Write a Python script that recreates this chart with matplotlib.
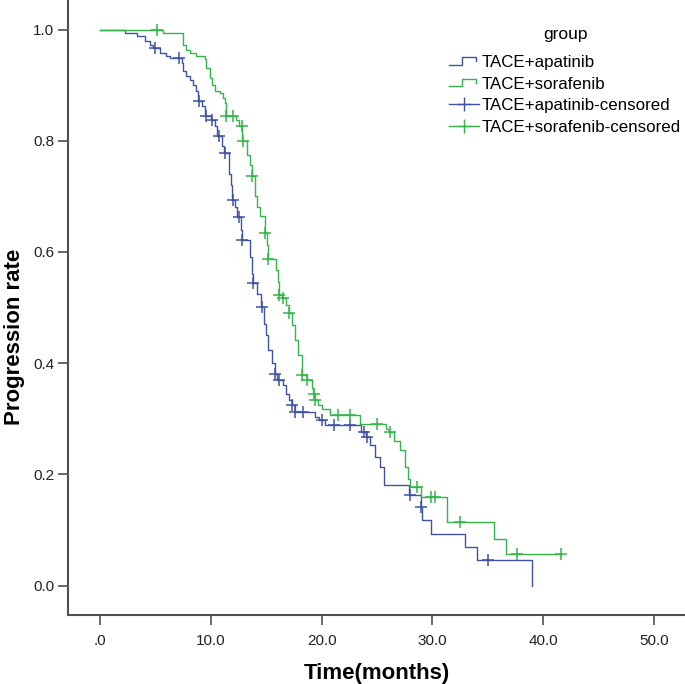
import numpy as np
import matplotlib
matplotlib.use("Agg")
import matplotlib.pyplot as plt
from matplotlib.legend_handler import HandlerBase
from matplotlib.lines import Line2D

plt.rcParams['font.family'] = ['Liberation Sans', 'DejaVu Sans']

# ---------------- data ----------------
apa_t = [0, 2.3, 3.3, 4.1, 4.5, 4.8, 5.4, 6.0, 6.3, 7.4, 7.5, 7.8, 8.1, 8.4, 8.7, 8.85,
         9.2, 9.5, 10.0, 10.4, 10.6, 11.0, 11.2, 11.6, 11.8, 11.9, 12.2, 12.4, 12.7, 12.8,
         13.5, 13.7, 13.8, 14.2, 14.5, 14.8, 15.0, 15.2, 15.5, 15.8, 16.0, 16.5, 16.8, 17.1,
         17.3, 17.6, 19.4, 19.8, 20.3, 23.6, 24.0, 24.4, 24.8, 25.3, 25.6, 27.9, 28.98, 29.02,
         29.9, 32.9, 34.0, 39.0]
apa_s = [1.0, 0.994, 0.989, 0.98, 0.973, 0.967, 0.958, 0.952, 0.949, 0.94, 0.925, 0.916,
         0.91, 0.901, 0.889, 0.871, 0.862, 0.844, 0.838, 0.826, 0.808, 0.79, 0.778, 0.74,
         0.72, 0.694, 0.68, 0.662, 0.64, 0.622, 0.59, 0.56, 0.544, 0.525, 0.501, 0.47, 0.45,
         0.423, 0.40, 0.381, 0.369, 0.36, 0.345, 0.333, 0.324, 0.312, 0.303, 0.297, 0.288,
         0.276, 0.267, 0.252, 0.231, 0.213, 0.180, 0.162, 0.141, 0.117, 0.093, 0.069, 0.045,
         0.0]
apa_cens = [5.0, 7.1, 8.9, 9.6, 10.1, 10.7, 11.3, 12.0, 12.5, 12.8, 13.8, 14.6, 15.8, 16.2,
            17.3, 17.6, 18.3, 20.0, 21.1, 22.6, 23.8, 24.1, 28.0, 29.0, 35.0]

sor_t = [0, 5.7, 7.5, 7.8, 8.1, 8.7, 9.5, 9.6, 9.9, 10.1, 10.4, 10.8, 11.1, 11.3, 11.4, 12.3,
         12.5, 12.85, 13.3, 13.5, 13.7, 14.0, 14.2, 14.4, 14.85, 15.05, 15.15, 15.9, 16.05,
         16.15, 16.45, 16.8, 17.05, 17.3, 17.6, 17.9, 18.2, 18.65, 19.1, 19.25, 19.38, 19.7,
         20.0, 20.8, 23.5, 25.8, 26.1, 26.5, 27.1, 27.5, 27.8, 28.0, 29.0, 31.3, 35.6, 36.6,
         41.6]
sor_s = [1.0, 0.993, 0.973, 0.964, 0.958, 0.952, 0.947, 0.931, 0.913, 0.901, 0.889, 0.885,
         0.877, 0.868, 0.845, 0.838, 0.826, 0.80, 0.775, 0.757, 0.736, 0.70, 0.68, 0.664,
         0.634, 0.613, 0.587, 0.568, 0.545, 0.523, 0.517, 0.505, 0.49, 0.468, 0.441, 0.414,
         0.378, 0.369, 0.355, 0.345, 0.333, 0.324, 0.318, 0.306, 0.291, 0.282, 0.276, 0.26,
         0.243, 0.213, 0.192, 0.177, 0.159, 0.114, 0.084, 0.056, 0.056]
sor_cens = [5.1, 11.4, 12.0, 12.8, 12.9, 13.7, 14.9, 15.2, 16.2, 16.5, 17.1, 18.25, 18.7,
            19.3, 19.4, 21.5, 22.6, 25.0, 26.2, 28.6, 29.9, 30.2, 32.5, 37.6, 41.6]

legend_title = "group"
labels = ["TACE+apatinib", "TACE+sorafenib", "TACE+apatinib-censored", "TACE+sorafenib-censored"]
xticks = [0, 10, 20, 30, 40, 50]
xticklabels = [".0", "10.0", "20.0", "30.0", "40.0", "50.0"]
yticks = [0.0, 0.2, 0.4, 0.6, 0.8, 1.0]
yticklabels = ["0.0", "0.2", "0.4", "0.6", "0.8", "1.0"]

BLUE = "#3F52A3"
GREEN = "#35B44A"
AXC = "#505050"

W, H = 685, 684
fig = plt.figure(figsize=(W / 100, H / 100), dpi=100)
ax = fig.add_axes([68 / W, 1 - 615 / H, 1 - 68 / W, 615 / H])


def level_at(t_arr, s_arr, c):
    idx = np.searchsorted(np.asarray(t_arr), np.asarray(c), side='right') - 1
    return np.asarray(s_arr)[idx]


ax.step(apa_t, apa_s, where='post', color=BLUE, lw=1.0)
ax.step(sor_t, sor_s, where='post', color=GREEN, lw=1.0)
ax.plot(apa_cens, level_at(apa_t, apa_s, apa_cens), ls='none', marker='+', ms=9, mew=1.1,
        color=BLUE)
ax.plot(sor_cens, level_at(sor_t, sor_s, sor_cens), ls='none', marker='+', ms=9, mew=1.1,
        color=GREEN)

x0px, x10px = 100, 210.8
tpp = 10 / (x10px - x0px)
ax.set_xlim(0 - (x0px - 68) * tpp, 0 + (W - x0px) * tpp)
y1px, y0px = 29.5, 585.5
spp = 1 / (y0px - y1px)
ax.set_ylim(0 - (615 - y0px) * spp, 1 + y1px * spp)

ax.set_xticks(xticks)
ax.set_xticklabels(xticklabels)
ax.set_yticks(yticks)
ax.set_yticklabels(yticklabels)
ax.tick_params(axis='both', direction='out', length=7, width=1.2, color=AXC,
               labelsize=11, labelcolor='#222222', pad=3)
ax.tick_params(axis='x', pad=7)
for s in ['top', 'right']:
    ax.spines[s].set_visible(False)
for s in ['left', 'bottom']:
    ax.spines[s].set_color(AXC)
    ax.spines[s].set_linewidth(1.5)

fig.text((68 + W) / 2 / W, 1 - 673 / H, "Time(months)", ha='center', va='center',
         fontsize=16, fontweight='bold')
fig.text(15 / W, 1 - 337 / H, "Progression rate", ha='center', va='center',
         rotation=90, fontsize=16, fontweight='bold')


class StepHandler(HandlerBase):
    def create_artists(self, legend, orig_handle, xdescent, ydescent, width, height,
                       fontsize, trans):
        x0 = -xdescent
        y0 = -ydescent
        xs = [x0, x0 + 0.45 * width, x0 + 0.45 * width, x0 + 0.92 * width, x0 + 0.92 * width]
        ys = [y0 + 0.2 * height, y0 + 0.2 * height, y0 + 0.85 * height, y0 + 0.85 * height,
              y0 + 0.5 * height]
        ln = Line2D(xs, ys, color=orig_handle.get_color(), lw=1.0, transform=trans)
        return [ln]


class CensHandler(HandlerBase):
    def create_artists(self, legend, orig_handle, xdescent, ydescent, width, height,
                       fontsize, trans):
        x0 = -xdescent
        y0 = -ydescent + 0.5 * height
        ln = Line2D([x0, x0 + width], [y0, y0], color=orig_handle.get_color(), lw=1.0,
                    transform=trans)
        mk = Line2D([x0 + 0.5 * width], [y0], ls='none', marker='+', ms=10, mew=1.0,
                    color=orig_handle.get_color(), transform=trans)
        return [ln, mk]


h1 = Line2D([], [], color=BLUE)
h2 = Line2D([], [], color=GREEN)
h3 = Line2D([], [], color=BLUE)
h4 = Line2D([], [], color=GREEN)
leg = ax.legend([h1, h2, h3, h4], labels,
                handler_map={h1: StepHandler(), h2: StepHandler(),
                             h3: CensHandler(), h4: CensHandler()},
                loc='upper left', bbox_to_anchor=(449 / W, 1 - 55 / H),
                bbox_transform=fig.transFigure, frameon=False, fontsize=12.2,
                handlelength=1.75, handletextpad=0.2,
                labelspacing=0.39, borderpad=0, borderaxespad=0)
fig.text(565 / W, 1 - 35 / H, legend_title, ha='center', va='center', fontsize=12.5)

fig.savefig("out.png", dpi=100)
